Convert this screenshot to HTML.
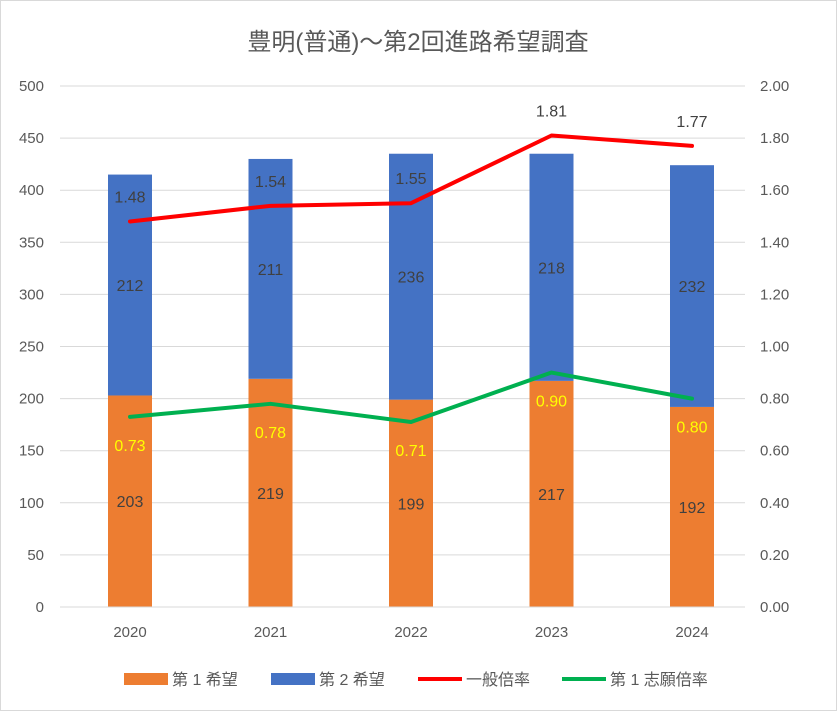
<!DOCTYPE html>
<html><head><meta charset="utf-8">
<style>
body{margin:0;background:#fff;}
svg{display:block;font-family:"Liberation Sans","Noto Sans CJK JP",sans-serif;}
</style></head>
<body>
<svg id="chart" width="837" height="711" viewBox="0 0 837 711">
<rect x="0.5" y="0.5" width="836" height="710" fill="#fff" stroke="#d9d9d9"/>
<text x="418" y="50" text-anchor="middle" font-size="24" fill="#595959">豊明(普通)～第2回進路希望調査</text>
<g id="grid"></g><g id="bars"></g><g id="lines"></g><g id="axes"></g>
<g font-size="16" fill="#595959">
<rect x="124" y="673" width="44" height="12" fill="#ed7d31"/>
<text x="172" y="685">第 1 希望</text>
<rect x="271" y="673" width="44" height="12" fill="#4472c4"/>
<text x="319" y="685">第 2 希望</text>
<line x1="418" y1="679" x2="462" y2="679" stroke="#ff0000" stroke-width="4"/>
<text x="466" y="685">一般倍率</text>
<line x1="562" y1="679" x2="606" y2="679" stroke="#00b050" stroke-width="4"/>
<text x="610" y="685">第 1 志願倍率</text>
</g>
</svg>
<script>
const categories=["2020","2021","2022","2023","2024"];
const firstChoice=[203,219,199,217,192];
const secondChoice=[212,211,236,218,232];
const generalRatio=[1.48,1.54,1.55,1.81,1.77];
const firstRatio=[0.73,0.78,0.71,0.90,0.80];
const leftTicks=[0,50,100,150,200,250,300,350,400,450,500];
const rightTicks=["0.00","0.20","0.40","0.60","0.80","1.00","1.20","1.40","1.60","1.80","2.00"];

const NS="http://www.w3.org/2000/svg";
const plotTop=86,plotBottom=607,plotLeft=60,plotRight=745;
const yL=v=>plotBottom-v/500*(plotBottom-plotTop);
const yR=v=>plotBottom-v/2*(plotBottom-plotTop);
const step=140.5;
const xC=i=>130+step*i;
const bw=44;
function mk(tag,attrs,parent,text){const e=document.createElementNS(NS,tag);for(const k in attrs)e.setAttribute(k,attrs[k]);if(text!==undefined)e.textContent=text;document.getElementById(parent).appendChild(e);return e;}

leftTicks.forEach((t,i)=>{
  const y=yL(t);
  const g=mk("line",{x1:plotLeft,x2:plotRight,y1:y,y2:y,stroke:"#d9d9d9","stroke-width":1},"grid");
  
  
  const l=mk("text",{x:44,y:y+5,"text-anchor":"end","font-size":15,fill:"#595959"},"axes",String(t));
  
  
  const r=mk("text",{x:760,y:y+5,"font-size":15,fill:"#595959"},"axes",rightTicks[i]);
  
  
});
categories.forEach((c,i)=>{
  const x=xC(i);
  const t=mk("text",{x:x,y:637,"text-anchor":"middle","font-size":15,fill:"#595959"},"axes",c);
  
  
  const y1=yL(firstChoice[i]),y2=yL(firstChoice[i]+secondChoice[i]);
  const b1=mk("rect",{x:x-bw/2,y:y1,width:bw,height:plotBottom-y1,fill:"#ed7d31"},"bars");
  
  
  const b2=mk("rect",{x:x-bw/2,y:y2,width:bw,height:y1-y2,fill:"#4472c4"},"bars");
  
  
  const l1=mk("text",{x:x,y:(y1+plotBottom)/2+6,"text-anchor":"middle","font-size":16,fill:"#404040"},"bars",firstChoice[i]);
  
  
  const l2=mk("text",{x:x,y:(y1+y2)/2+6,"text-anchor":"middle","font-size":16,fill:"#404040"},"bars",secondChoice[i]);
  
  
});
const axisLine=mk("line",{x1:plotLeft,x2:plotRight,y1:plotBottom,y2:plotBottom,stroke:"#d9d9d9"},"axes");



function series(vals,color,name,labelColor,dy){
  const pts=vals.map((v,i)=>xC(i)+","+yR(v)).join(" ");
  const p=mk("polyline",{points:pts,fill:"none",stroke:color,"stroke-width":4,"stroke-linejoin":"round","stroke-linecap":"round"},"lines");
  
  
  vals.forEach((v,i)=>{
    const t=mk("text",{x:xC(i),y:yR(v)+dy,"text-anchor":"middle","font-size":16,fill:labelColor},"lines",v.toFixed(2));
    
    
  });
}
series(generalRatio,"#ff0000","general-ratio","#404040",-19);
series(firstRatio,"#00b050","first-ratio","#ffff00",34);
</script>
</body></html>
